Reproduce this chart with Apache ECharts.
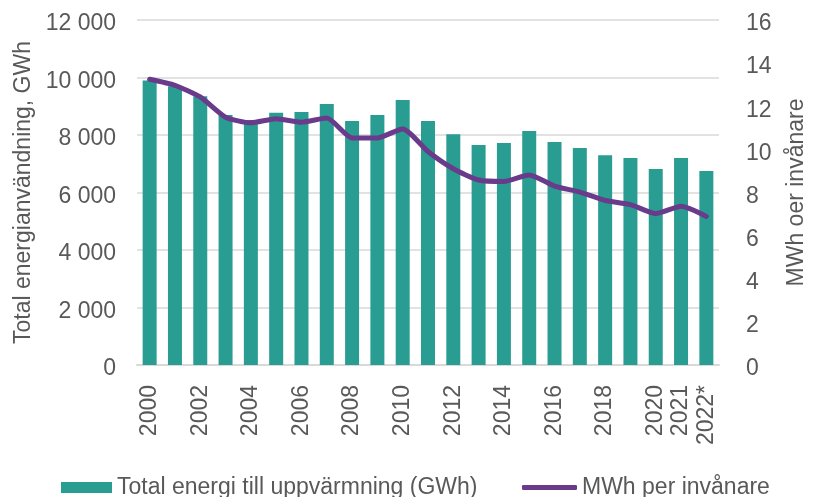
<!DOCTYPE html>
<html>
<head>
<meta charset="utf-8">
<script src="https://cdn.jsdelivr.net/npm/echarts@6/dist/echarts.min.js"></script>
<style>
  html, body { margin: 0; padding: 0; background: #fff; }
  #chart { width: 816px; height: 497px; }
</style>
</head>
<body>
<div id="chart"></div>
<script>
// data
var years = ['2000', '2001', '2002', '2003', '2004', '2005', '2006', '2007', '2008', '2009', '2010',
             '2011', '2012', '2013', '2014', '2015', '2016', '2017', '2018', '2019', '2020', '2021', '2022*'];
var energyGWh = [9900, 9700, 9350, 8700, 8520, 8770, 8800, 9080, 8490, 8700, 9220,
                 8490, 8030, 7650, 7720, 8140, 7760, 7550, 7300, 7200, 6820, 7200, 6750];
var mwhPerCapita = [13.25, 12.97, 12.43, 11.49, 11.23, 11.42, 11.26, 11.45, 10.53, 10.53, 10.95,
                    9.9, 9.1, 8.58, 8.51, 8.81, 8.30, 8.02, 7.63, 7.44, 7.02, 7.36, 6.89];

var barName = 'Total energi till uppvärmning (GWh)';
var lineName = 'MWh per invånare';
var textColor = '#595959';
var fontFamily = '"Liberation Sans", Arial, sans-serif';

// tick labels sit a few px under the gridline, like in Excel
var tickRich = { t: { fontSize: 23, color: textColor, padding: [8, 0, 0, 0] } };

var myChart = echarts.init(document.getElementById('chart'));

var option = {
    animation: false,
    textStyle: { fontFamily: fontFamily, color: textColor },
    grid: { left: 137, right: 86, top: 20, bottom: 132 },
    legend: [
        {
            data: [{ name: barName, icon: 'rect' }],
            left: 56, top: 471,
            itemWidth: 51, itemHeight: 11,
            textStyle: { fontSize: 23, color: textColor, fontFamily: fontFamily }
        },
        {
            data: [{ name: lineName, icon: 'roundRect' }],
            left: 517, top: 471,
            itemWidth: 55, itemHeight: 5,
            textStyle: { fontSize: 23, color: textColor, fontFamily: fontFamily }
        }
    ],
    xAxis: {
        type: 'category',
        data: years,
        axisLine: { lineStyle: { color: '#D9D9D9', width: 2 } },
        axisTick: { show: false },
        axisLabel: {
            rotate: 90,
            margin: 20,
            fontSize: 23,
            color: textColor,
            interval: function (i) { return i % 2 === 0 || i >= 20; }
        }
    },
    yAxis: [
        {
            type: 'value',
            min: 0, max: 12000, interval: 2000,
            name: 'Total energianvändning, GWh',
            nameLocation: 'middle',
            nameGap: 101,
            nameTextStyle: { fontSize: 23, color: textColor },
            axisLabel: {
                fontSize: 23, color: textColor, margin: 21,
                rich: tickRich,
                formatter: function (v) {
                    return '{t|' + String(v).replace(/\B(?=(\d{3})+(?!\d))/g, ' ') + '}';
                }
            },
            splitLine: { lineStyle: { color: '#D9D9D9', width: 1.5 } }
        },
        {
            type: 'value',
            min: 0, max: 16, interval: 2,
            name: 'MWh oer invånare',
            nameLocation: 'middle',
            nameGap: 66,
            nameTextStyle: { fontSize: 23, color: textColor },
            axisLabel: {
                fontSize: 23, color: textColor, margin: 27,
                rich: tickRich,
                formatter: function (v) { return '{t|' + v + '}'; }
            },
            splitLine: { show: false }
        }
    ],
    series: [
        {
            name: barName,
            type: 'bar',
            data: energyGWh,
            barWidth: 14,
            itemStyle: { color: '#2A9D93' }
        },
        {
            name: lineName,
            type: 'line',
            yAxisIndex: 1,
            data: mwhPerCapita,
            smooth: 0.2,
            symbol: 'none',
            lineStyle: { color: '#6A3A8B', width: 5, cap: 'round', join: 'round' },
            itemStyle: { color: '#6A3A8B' }
        }
    ]
};

myChart.setOption(option);
</script>
</body>
</html>
